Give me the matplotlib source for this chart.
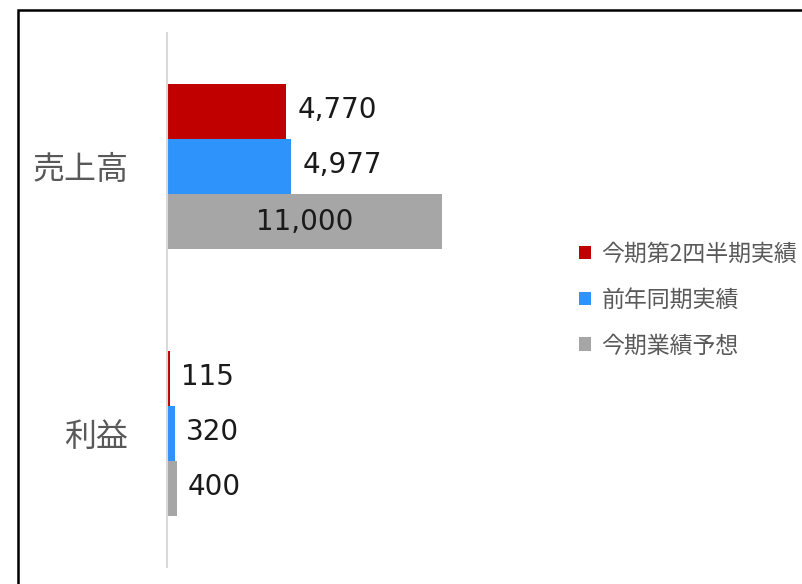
import numpy as np
import matplotlib.pyplot as plt
from matplotlib.patches import Rectangle

plt.rcParams['font.family'] = ['Noto Sans CJK JP', 'DejaVu Sans']

categories = ['売上高', '利益']
series_names = ['今期第2四半期実績', '前年同期実績', '今期業績予想']
q2_actual = [4770, 115]
prev_year = [4977, 320]
forecast = [11000, 400]
colors = ['#C00000', '#2E93FA', '#A6A6A6']

W, H = 803, 584
fig = plt.figure(figsize=(W / 100, H / 100), dpi=100)
ax = fig.add_axes([167 / W, 1 - 567 / H, 625 / W, 534 / H])

# outer border around the chart area
fig.patches.append(Rectangle((18 / W, -0.1), 1.2, 1 - 10 / H + 0.1,
                             transform=fig.transFigure, fill=False,
                             edgecolor='black', linewidth=1.8))

y = np.arange(len(categories))
h = 0.207
values = [q2_actual, prev_year, forecast]
for i, (vals, name, c) in enumerate(zip(values, series_names, colors)):
    bars = ax.barh(y + (i - 1) * h, vals, height=h, color=c, label=name)
    for b, v in zip(bars, vals):
        txt = f'{v:,}'
        cy = b.get_y() + b.get_height() / 2
        if v > 8000:
            ax.text(v / 2, cy, txt, ha='center', va='center',
                    fontsize=20, color='#1a1a1a', family='DejaVu Sans')
        else:
            ax.annotate(txt, (v, cy), xytext=(8, 1), textcoords='offset points',
                        ha='left', va='center', fontsize=20, color='#1a1a1a',
                        family='DejaVu Sans')

ax.set_xlim(0, 25000)
ax.set_ylim(1.5, -0.5)
ax.set_yticks(y)
ax.set_yticklabels(categories, fontsize=23, color='#595959')
ax.tick_params(axis='y', length=0, pad=28)
ax.set_xticks([])
for s in ['top', 'right', 'bottom']:
    ax.spines[s].set_visible(False)
ax.spines['left'].set_color('#D9D9D9')
ax.spines['left'].set_linewidth(1.5)

leg = ax.legend(loc='upper left', bbox_to_anchor=(558 / W, 1 - 222 / H),
                bbox_transform=fig.transFigure, frameon=False,
                fontsize=16.5, labelcolor='#595959', handlelength=0.55,
                handleheight=0.55, handletextpad=0.45, labelspacing=1.0)

fig.savefig('out.png', dpi=100, facecolor='white')
